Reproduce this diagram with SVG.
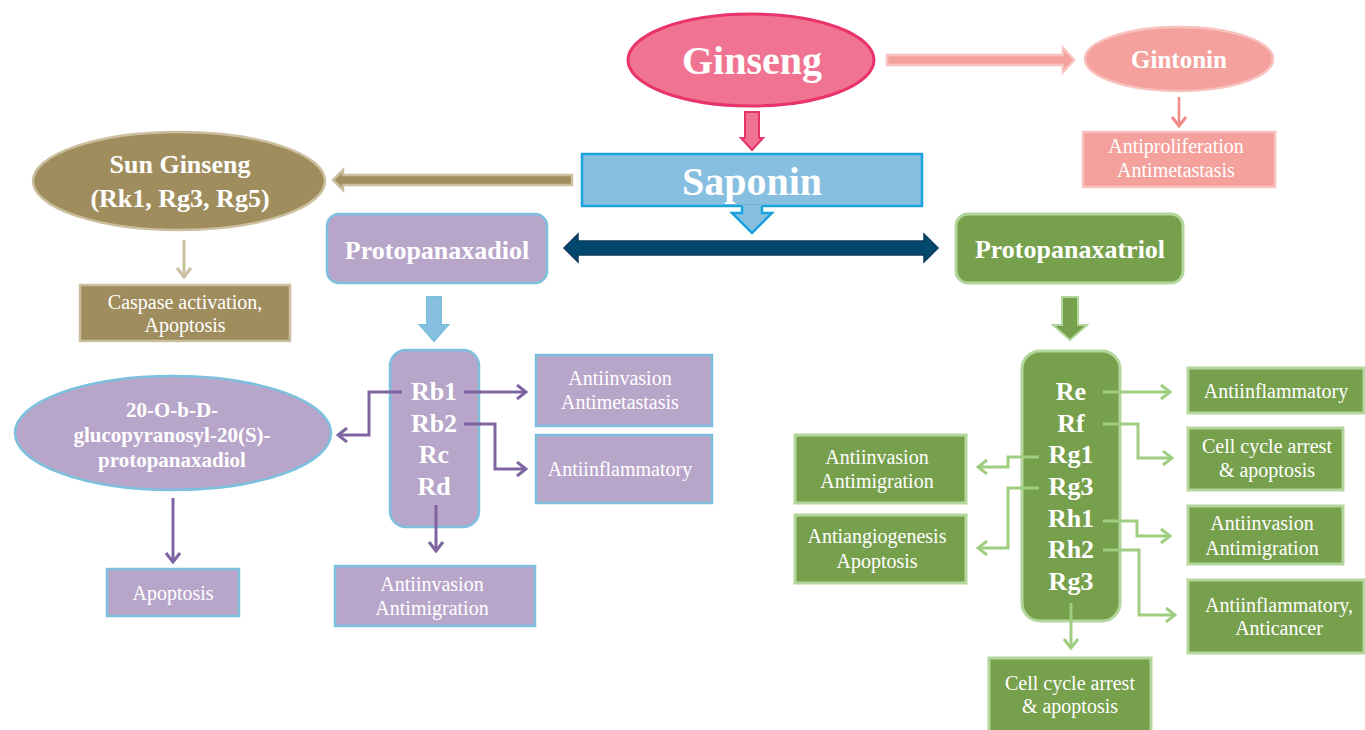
<svg xmlns="http://www.w3.org/2000/svg" width="1365" height="730" viewBox="0 0 1365 730">
<defs>
<style>
text{font-family:"Liberation Serif","Times New Roman",serif;fill:#ffffff;text-anchor:middle}
.b{font-weight:bold}
.n{font-size:20px}
.pur{fill:#b8a6ca;stroke:#7cc0de;stroke-width:2.5}
.grn{fill:#77a04d;stroke:#b3d69c;stroke-width:3}
.tan{fill:#a08d5e;stroke:#cbbf9f;stroke-width:2.5}
.pnk{fill:#f4a19d;stroke:#f8c2be;stroke-width:2.5}
.cp{fill:none;stroke:#8064a2;stroke-width:3}
.cg{fill:none;stroke:#9fce82;stroke-width:3}
</style>
<marker id="mp" viewBox="0 0 12 16" refX="10" refY="8" markerWidth="12" markerHeight="16" markerUnits="userSpaceOnUse" orient="auto"><path d="M1,1 L10,8 L1,15" fill="none" stroke="#8064a2" stroke-width="3"/></marker>
<marker id="mg" viewBox="0 0 12 16" refX="10" refY="8" markerWidth="12" markerHeight="16" markerUnits="userSpaceOnUse" orient="auto"><path d="M1,1 L10,8 L1,15" fill="none" stroke="#9fce82" stroke-width="3"/></marker>
<marker id="mt" viewBox="0 0 12 16" refX="10" refY="8" markerWidth="12" markerHeight="16" markerUnits="userSpaceOnUse" orient="auto"><path d="M1,1 L10,8 L1,15" fill="none" stroke="#cbbf9f" stroke-width="3"/></marker>
<marker id="mk" viewBox="0 0 12 16" refX="10" refY="8" markerWidth="12" markerHeight="16" markerUnits="userSpaceOnUse" orient="auto"><path d="M1,1 L10,8 L1,15" fill="none" stroke="#f08c88" stroke-width="3"/></marker>
</defs>

<g id="ginseng">
<ellipse cx="751" cy="60" rx="123" ry="46" fill="#f07491" stroke="#e8336b" stroke-width="3"/>
<text x="752" y="74" class="b" font-size="40">Ginseng</text>
</g>

<g id="saponin">
<rect x="582" y="154" width="340" height="52" fill="#86bfdf" stroke="#1aa3dd" stroke-width="2.5"/>
<text x="752" y="195" class="b" font-size="40">Saponin</text>
</g>

<g id="gintonin">
<ellipse cx="1179" cy="59" rx="94" ry="32" class="pnk"/>
<text x="1179" y="68" class="b" font-size="25">Gintonin</text>
</g>

<g id="gintonin-effect">
<rect x="1083" y="132" width="192" height="55" class="pnk"/>
<text x="1176" y="153" class="n">Antiproliferation</text>
<text x="1176" y="177" class="n">Antimetastasis</text>
</g>

<g id="sun-ginseng">
<ellipse cx="179" cy="181" rx="146" ry="49" class="tan"/>
<text x="180" y="173" class="b" font-size="26">Sun Ginseng</text>
<text x="180" y="207" class="b" font-size="26">(Rk1, Rg3, Rg5)</text>
</g>

<g id="sun-effect">
<rect x="80" y="285" width="210" height="56" class="tan"/>
<text x="185" y="309" class="n">Caspase activation,</text>
<text x="185" y="332" class="n">Apoptosis</text>
</g>

<g id="ppd">
<rect x="327" y="214" width="220" height="69" rx="12" class="pur"/>
<text x="437" y="259" class="b" font-size="26">Protopanaxadiol</text>
</g>

<g id="ppd-list">
<rect x="390" y="350" width="89" height="177" rx="16" class="pur"/>
<text x="434" y="400" class="b" font-size="26">Rb1</text>
<text x="434" y="432" class="b" font-size="26">Rb2</text>
<text x="434" y="463" class="b" font-size="26">Rc</text>
<text x="434" y="495" class="b" font-size="26">Rd</text>
</g>

<g id="ppd-e1">
<rect x="536" y="355" width="176" height="71" class="pur"/>
<text x="620" y="385" class="n">Antiinvasion</text>
<text x="620" y="409" class="n">Antimetastasis</text>
</g>

<g id="ppd-e2">
<rect x="536" y="435" width="176" height="68" class="pur"/>
<text x="620" y="476" class="n">Antiinflammatory</text>
</g>

<g id="ppd-e3">
<rect x="335" y="566" width="200" height="60" class="pur"/>
<text x="432" y="591" class="n">Antiinvasion</text>
<text x="432" y="615" class="n">Antimigration</text>
</g>

<g id="glc-ppd">
<ellipse cx="173" cy="433" rx="158" ry="57" class="pur"/>
<text x="172" y="417" class="b" font-size="21">20-O-b-D-</text>
<text x="172" y="442" class="b" font-size="21">glucopyranosyl-20(S)-</text>
<text x="172" y="467" class="b" font-size="21">protopanaxadiol</text>
</g>

<g id="glc-effect">
<rect x="107" y="569" width="132" height="47" class="pur"/>
<text x="173" y="600" class="n">Apoptosis</text>
</g>

<g id="ppt">
<rect x="956" y="214" width="227" height="69" rx="12" class="grn"/>
<text x="1070" y="258" class="b" font-size="26">Protopanaxatriol</text>
</g>

<g id="ppt-list">
<rect x="1022" y="351" width="98" height="270" rx="18" class="grn"/>
<text x="1071" y="400" class="b" font-size="26">Re</text>
<text x="1071" y="432" class="b" font-size="26">Rf</text>
<text x="1071" y="463" class="b" font-size="26">Rg1</text>
<text x="1071" y="495" class="b" font-size="26">Rg3</text>
<text x="1071" y="527" class="b" font-size="26">Rh1</text>
<text x="1071" y="558" class="b" font-size="26">Rh2</text>
<text x="1071" y="590" class="b" font-size="26">Rg3</text>
</g>

<g id="ppt-e1">
<rect x="1188" y="368" width="176" height="45" class="grn"/>
<text x="1276" y="398" class="n">Antiinflammatory</text>
</g>
<g id="ppt-e2">
<rect x="1188" y="428" width="155" height="62" class="grn"/>
<text x="1267" y="453" class="n">Cell cycle arrest</text>
<text x="1267" y="477" class="n">&amp; apoptosis</text>
</g>
<g id="ppt-e3">
<rect x="1188" y="506" width="155" height="58" class="grn"/>
<text x="1262" y="530" class="n">Antiinvasion</text>
<text x="1262" y="555" class="n">Antimigration</text>
</g>
<g id="ppt-e4">
<rect x="1188" y="580" width="176" height="73" class="grn"/>
<text x="1279" y="612" class="n">Antiinflammatory,</text>
<text x="1279" y="635" class="n">Anticancer</text>
</g>
<g id="ppt-e5">
<rect x="795" y="435" width="171" height="68" class="grn"/>
<text x="877" y="464" class="n">Antiinvasion</text>
<text x="877" y="488" class="n">Antimigration</text>
</g>
<g id="ppt-e6">
<rect x="795" y="515" width="171" height="68" class="grn"/>
<text x="877" y="543" class="n">Antiangiogenesis</text>
<text x="877" y="568" class="n">Apoptosis</text>
</g>
<g id="ppt-e7">
<rect x="989" y="658" width="162" height="80" class="grn"/>
<text x="1070" y="690" class="n">Cell cycle arrest</text>
<text x="1070" y="713" class="n">&amp; apoptosis</text>
</g>

<g id="connectors">
<!-- Ginseng to Saponin -->
<polygon points="745,112 759,112 759,138 763,138 752,150 741,138 745,138" fill="#f07491" stroke="#e8336b" stroke-width="2"/>
<!-- Saponin down -->
<path d="M742,205 L762,205 L762,213 L772,213 L752,233 L732,213 L742,213 Z" fill="#86bfdf"/>
<path d="M742,206 L742,213 L732,213 L752,233 L772,213 L762,213 L762,206" fill="none" stroke="#1aa3dd" stroke-width="2.5"/>
<!-- double arrow -->
<polygon points="564,248 578,234 578,241 924,241 924,234 938,248 924,262 924,255 578,255 578,262" fill="#00486d" stroke="#0d3a5a" stroke-width="1.5"/>
<!-- Ginseng to Gintonin -->
<polygon points="887,55 1063,55 1063,48 1074,60 1063,72 1063,65 887,65" fill="#f4a19d" stroke="#f8c2be" stroke-width="2.5"/>
<!-- Saponin to Sun Ginseng -->
<polygon points="572,175 343,175 343,170 333,180 343,190 343,185 572,185" fill="#a08d5e" stroke="#cbbf9f" stroke-width="2.5"/>
<!-- PPD down -->
<polygon points="427,297 441,297 441,325 448,325 434,341 420,325 427,325" fill="#86bfdf" stroke="#7cc0de" stroke-width="2"/>
<!-- PPT down -->
<polygon points="1062,297 1078,297 1078,325 1087,325 1070,340 1053,325 1062,325" fill="#77a04d" stroke="#b3d69c" stroke-width="2"/>
<!-- thin arrows -->
<line x1="184" y1="240" x2="184" y2="277" stroke="#cbbf9f" stroke-width="3" marker-end="url(#mt)"/>
<line x1="1179" y1="97" x2="1179" y2="126" stroke="#f08c88" stroke-width="2.5" marker-end="url(#mk)"/>
<!-- purple -->
<path class="cp" d="M464,392 L526,392" marker-end="url(#mp)"/>
<path class="cp" d="M402,392 L369,392 L369,435 L338,435" marker-end="url(#mp)"/>
<path class="cp" d="M464,424 L495,424 L495,469 L526,469" marker-end="url(#mp)"/>
<path class="cp" d="M436,505 L436,551" marker-end="url(#mp)"/>
<path class="cp" d="M173,498 L173,562" marker-end="url(#mp)"/>
<!-- green -->
<path class="cg" d="M1103,392 L1170,392" marker-end="url(#mg)"/>
<path class="cg" d="M1103,424 L1138,424 L1138,458 L1172,458" marker-end="url(#mg)"/>
<path class="cg" d="M1103,521 L1137,521 L1137,536 L1170,536" marker-end="url(#mg)"/>
<path class="cg" d="M1103,550 L1139,550 L1139,615 L1175,615" marker-end="url(#mg)"/>
<path class="cg" d="M1039,457 L1008,457 L1008,467 L978,467" marker-end="url(#mg)"/>
<path class="cg" d="M1039,488 L1008,488 L1008,548 L978,548" marker-end="url(#mg)"/>
<path class="cg" d="M1071,603 L1071,648" marker-end="url(#mg)"/>
</g>
</svg>
